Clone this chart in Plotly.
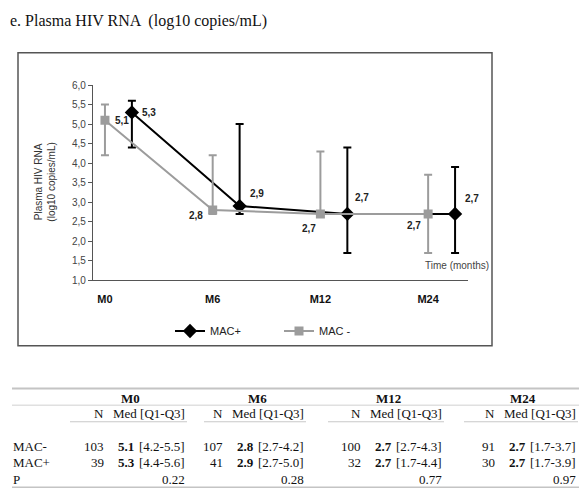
import plotly.graph_objects as go

W, H = 586, 499

# ---------------- data ----------------
timepoints = ["M0", "M6", "M12", "M24"]
mac_neg_n = [103, 107, 100, 91]
mac_neg_med = [5.1, 2.8, 2.7, 2.7]
mac_neg_q1 = [4.2, 2.7, 2.7, 1.7]
mac_neg_q3 = [5.5, 4.2, 4.3, 3.7]
mac_pos_n = [39, 41, 32, 30]
mac_pos_med = [5.3, 2.9, 2.7, 2.7]
mac_pos_q1 = [4.4, 2.7, 1.7, 1.7]
mac_pos_q3 = [5.6, 5.0, 4.4, 3.9]
p_values = ["0.22", "0.28", "0.77", "0.97"]
y_ticks = [1.0, 1.5, 2.0, 2.5, 3.0, 3.5, 4.0, 4.5, 5.0, 5.5, 6.0]

GRAY = "#9c9c9c"
BLACK = "#000000"
OFFSET = 0.25


def px(x):
    return x / W


def py(y):
    return 1 - y / H


def comma(v):
    return f"{v:.1f}".replace(".", ",")


idx = list(range(len(timepoints)))
x_neg = [i for i in idx]
x_pos = [i + OFFSET for i in idx]

fig = go.Figure()

fig.add_trace(go.Scatter(
    x=x_pos, y=mac_pos_med, name="MAC+", mode="lines+markers",
    line=dict(color=BLACK, width=2),
    marker=dict(symbol="diamond", size=11, color=BLACK),
    error_y=dict(type="data", symmetric=False,
                 array=[q3 - m for q3, m in zip(mac_pos_q3, mac_pos_med)],
                 arrayminus=[m - q1 for q1, m in zip(mac_pos_q1, mac_pos_med)],
                 color=BLACK, thickness=2, width=4),
))
fig.add_trace(go.Scatter(
    x=x_neg, y=mac_neg_med, name="MAC -", mode="lines+markers",
    line=dict(color=GRAY, width=2),
    marker=dict(symbol="square", size=9, color=GRAY),
    error_y=dict(type="data", symmetric=False,
                 array=[q3 - m for q3, m in zip(mac_neg_q3, mac_neg_med)],
                 arrayminus=[m - q1 for q1, m in zip(mac_neg_q1, mac_neg_med)],
                 color=GRAY, thickness=2, width=4),
))

annotations = []
lab_font = dict(family="Liberation Sans", size=10, color="#222")
# data labels
neg_style = [("left", 8, 0), ("right", -8, -6), ("right", -2, -15), ("right", -5, -12)]
pos_style = [("left", 8, 0), ("left", 8, 13), ("left", 6, 16), ("left", 8, 15)]
for i in idx:
    a, dx, dy = neg_style[i]
    annotations.append(dict(x=x_neg[i], y=mac_neg_med[i], xref="x", yref="y",
                            text=f"<b>{comma(mac_neg_med[i])}</b>", showarrow=False,
                            xanchor=a, yanchor="middle", xshift=dx, yshift=dy, font=lab_font))
    a, dx, dy = pos_style[i]
    annotations.append(dict(x=x_pos[i], y=mac_pos_med[i], xref="x", yref="y",
                            text=f"<b>{comma(mac_pos_med[i])}</b>", showarrow=False,
                            xanchor=a, yanchor="middle", xshift=dx, yshift=dy, font=lab_font))

# title
annotations.append(dict(x=px(8), y=py(15), xref="paper", yref="paper",
                        text="e. Plasma HIV RNA  (log10 copies/mL)", showarrow=False,
                        xanchor="left", yanchor="middle",
                        font=dict(family="Liberation Serif", size=16, color="#111")))
# y axis title
annotations.append(dict(x=px(45), y=py(181), xref="paper", yref="paper",
                        text="Plasma HIV RNA<br>(log10 copies/mL)", showarrow=False,
                        textangle=-90, xanchor="center", yanchor="middle",
                        font=dict(family="Liberation Sans", size=10, color="#333")))
# time label
annotations.append(dict(x=px(457), y=py(266), xref="paper", yref="paper",
                        text="Time (months)", showarrow=False,
                        xanchor="center", yanchor="middle",
                        font=dict(family="Liberation Sans", size=10, color="#444")))

# ---------------- table ----------------
tfont = dict(family="Liberation Serif", size=13, color="#111")
grp_right = [187, 306, 444, 578]
grp_left = [70, 204, 328, 464]
row_y = {"grp": 402, "hdr": 418, "neg": 451, "pos": 468, "p": 485}

for g, tp in enumerate(timepoints):
    R = grp_right[g]
    center = (grp_left[g] + R) / 2 + 2
    annotations.append(dict(x=px(center), y=py(row_y["grp"]), xref="paper", yref="paper",
                            text=f"<b>{tp}</b>", showarrow=False, xanchor="center",
                            yanchor="middle", font=tfont))
    annotations.append(dict(x=px(R - 81), y=py(row_y["hdr"]), xref="paper", yref="paper",
                            text="N", showarrow=False, xanchor="right", yanchor="middle", font=tfont))
    annotations.append(dict(x=px(R), y=py(row_y["hdr"]), xref="paper", yref="paper",
                            text="Med [Q1-Q3]", showarrow=False, xanchor="right",
                            yanchor="middle", font=tfont))
    for key, n, med, q1, q3 in [("neg", mac_neg_n[g], mac_neg_med[g], mac_neg_q1[g], mac_neg_q3[g]),
                                ("pos", mac_pos_n[g], mac_pos_med[g], mac_pos_q1[g], mac_pos_q3[g])]:
        annotations.append(dict(x=px(R - 81), y=py(row_y[key]), xref="paper", yref="paper",
                                text=str(n), showarrow=False, xanchor="right",
                                yanchor="middle", font=tfont))
        annotations.append(dict(x=px(R - 71), y=py(row_y[key]), xref="paper", yref="paper",
                                text=f"<b>{med:.1f}</b>", showarrow=False, xanchor="left",
                                yanchor="middle", font=tfont))
        annotations.append(dict(x=px(R), y=py(row_y[key]), xref="paper", yref="paper",
                                text=f"[{q1:.1f}-{q3:.1f}]", showarrow=False, xanchor="right",
                                yanchor="middle", font=tfont))
    annotations.append(dict(x=px(R), y=py(row_y["p"]), xref="paper", yref="paper",
                            text=p_values[g], showarrow=False, xanchor="right",
                            yanchor="middle", font=tfont))

for key, label in [("neg", "MAC-"), ("pos", "MAC+"), ("p", "P")]:
    annotations.append(dict(x=px(11), y=py(row_y[key]), xref="paper", yref="paper",
                            text=label, showarrow=False, xanchor="left",
                            yanchor="middle", font=tfont))

shapes = [
    # outer chart frame
    dict(type="rect", xref="paper", yref="paper", x0=px(18), x1=px(492), y0=py(348), y1=py(48),
         line=dict(color="#555", width=1.5)),
    # table rules
    dict(type="line", xref="paper", yref="paper", x0=px(12), x1=px(579), y0=py(392), y1=py(392),
         line=dict(color="#c4c4c4", width=2)),
    dict(type="line", xref="paper", yref="paper", x0=px(12), x1=px(579), y0=py(409), y1=py(409),
         line=dict(color="#d0d0d0", width=1)),
    dict(type="line", xref="paper", yref="paper", x0=px(12), x1=px(579), y0=py(493), y1=py(493),
         line=dict(color="#c4c4c4", width=1.5)),
]
for g in range(len(timepoints)):
    shapes.append(dict(type="line", xref="paper", yref="paper", x0=px(grp_left[g]),
                       x1=px(grp_right[g]), y0=py(426), y1=py(426),
                       line=dict(color="#c8c8c8", width=1)))

fig.update_layout(
    width=W, height=H,
    margin=dict(l=0, r=0, t=0, b=0),
    paper_bgcolor="white", plot_bgcolor="white",
    separators=",.",
    font=dict(family="Liberation Sans", size=10, color="#333"),
    xaxis=dict(domain=[px(93), px(468)], range=[-0.111, 3.37],
               tickvals=idx, ticktext=[f"<b>{t}</b>" for t in timepoints],
               tickfont=dict(family="Liberation Sans", size=11, color="#111"),
               ticks="", ticklabelstandoff=8,
               showline=True, linecolor="#555", linewidth=1.2,
               showgrid=False, zeroline=False, fixedrange=True),
    yaxis=dict(domain=[py(281), py(81)], range=[1.0, 6.0],
               tickvals=y_ticks, tickformat=".1f",
               tickfont=dict(family="Liberation Sans", size=10, color="#444"),
               ticks="outside", ticklen=4, tickcolor="#555",
               showline=True, linecolor="#555", linewidth=1.2,
               showgrid=False, zeroline=False, fixedrange=True),
    showlegend=True,
    legend=dict(orientation="h", x=px(170), y=py(333), xanchor="left", yanchor="middle",
                font=dict(family="Liberation Sans", size=11, color="#222"),
                entrywidth=64, bgcolor="rgba(0,0,0,0)"),
    annotations=annotations,
    shapes=shapes,
)

fig.write_html(
    "out.html",
    config={"displayModeBar": False},
    post_script="document.body.style.margin='0';document.body.style.overflow='hidden';",
)
